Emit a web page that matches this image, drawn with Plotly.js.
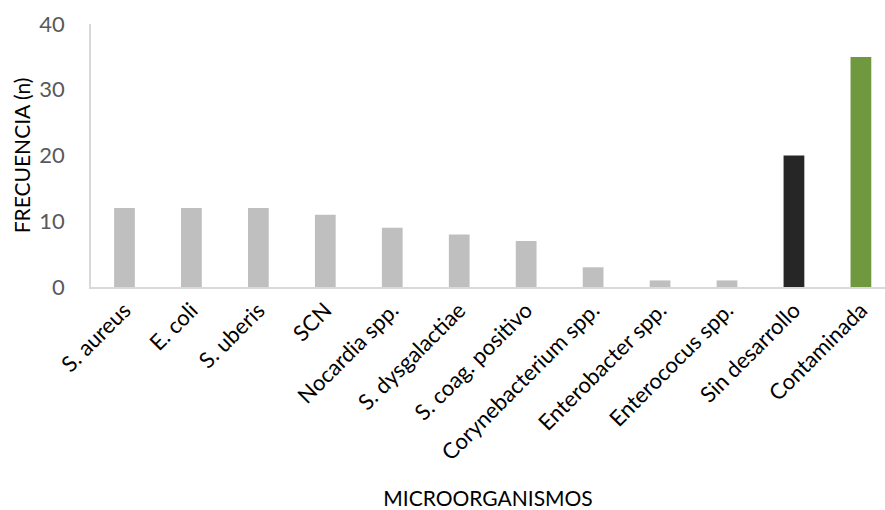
<!DOCTYPE html>
<html><head><meta charset="utf-8">
<script src="https://cdn.plot.ly/plotly-3.0.1.min.js"></script>
<style>html,body{margin:0;padding:0;background:#fff;overflow:hidden}</style>
</head><body>
<div id="chart" style="width:885px;height:510px"></div>
<script>
const categories = ["S. aureus","E. coli","S. uberis","SCN","Nocardia spp.","S. dysgalactiae","S. coag. positivo","Corynebacterium spp.","Enterobacter spp.","Enterococus spp.","Sin desarrollo","Contaminada"];
const frequencies = [12,12,12,11,9,8,7,3,1,1,20,35];
const barColors = ["#BFBFBF","#BFBFBF","#BFBFBF","#BFBFBF","#BFBFBF","#BFBFBF","#BFBFBF","#BFBFBF","#BFBFBF","#BFBFBF","#262626","#70993F"];
const yTicks = [0,10,20,30,40];

const font = "Lato, 'Open Sans', sans-serif";
Plotly.newPlot("chart", [{
  type: "bar",
  x: categories,
  y: frequencies,
  marker: {color: barColors},
  width: 0.31,
  hoverinfo: "x+y"
}], {
  width: 885, height: 510,
  margin: {l: 91, r: 0, t: 24, b: 223},
  paper_bgcolor: "#fff", plot_bgcolor: "#fff",
  showlegend: false,
  xaxis: {
    type: "category",
    range: [-0.5, 11.36],
    tickangle: -45,
    tickfont: {family: font, size: 22, color: "#000"},
    showline: true, linecolor: "#D9D9D9", linewidth: 1.5,
    showgrid: false, zeroline: false, ticks: "",
    automargin: false,
    title: {text: "MICROORGANISMOS", font: {family: font, size: 21, color: "#000"}, standoff: 44}
  },
  yaxis: {
    range: [0, 40],
    tickvals: yTicks,
    tickfont: {family: font, size: 22, color: "#595959"},
    ticklabelstandoff: 20,
    showline: true, linecolor: "#D9D9D9", linewidth: 1.5,
    showgrid: false, zeroline: false, ticks: "",
    automargin: false,
    title: {text: "FRECUENCIA (n)", font: {family: font, size: 21, color: "#000"}, standoff: 3}
  }
}, {displayModeBar: false});
</script>
</body></html>
